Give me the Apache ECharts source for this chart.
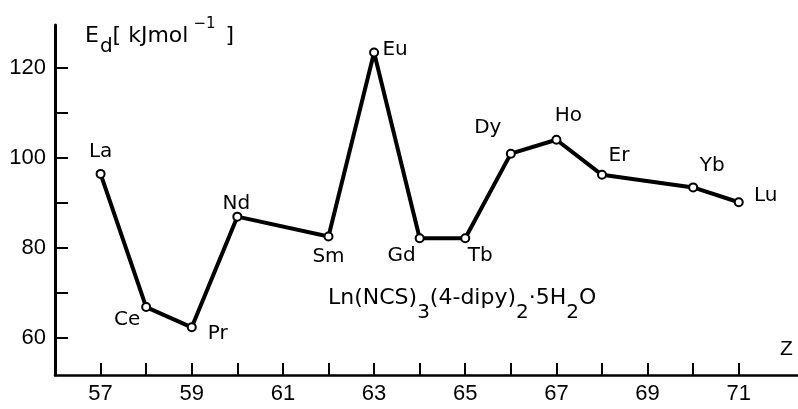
<!DOCTYPE html>
<html>
<head>
<meta charset="utf-8">
<script src="https://cdn.jsdelivr.net/npm/echarts@6/dist/echarts.min.js"></script>
<style>
html,body{margin:0;padding:0;background:#fff;}
#chart{width:798px;height:409px;}
</style>
</head>
<body>
<div id="chart"></div>
<script>
// ---- data ----
const elements = ['La','Ce','Pr','Nd','Sm','Eu','Gd','Tb','Dy','Ho','Er','Yb','Lu'];
const zValues  = [57, 58, 59, 60, 62, 63, 64, 65, 66, 67, 68, 70, 71];
const energies = [96.5, 66.9, 62.4, 87.0, 82.6, 123.5, 82.2, 82.2, 101.0, 104.1, 96.3, 93.5, 90.2];
const xTickValues  = [57,58,59,60,61,62,63,64,65,66,67,68,69,70,71];
const xLabelValues = [57,59,61,63,65,67,69,71];
const yTickValues  = [60,70,80,90,100,110,120];
const yLabelValues = [60,80,100,120];

// ---- label placement (style only) ----
const labelOffsets = {
  La:[0,-22], Ce:[-19,13], Pr:[26,6], Nd:[-1,-13], Sm:[0,20], Eu:[21,-3],
  Gd:[-18,18], Tb:[15,18], Dy:[-23,-26], Ho:[12,-24], Er:[17,-19], Yb:[19,-22], Lu:[27,-6]
};

const seriesData = zValues.map((z, i) => ({
  value: [z, energies[i]],
  name: elements[i],
  label: { offset: labelOffsets[elements[i]] }
}));

const base = {fontFamily:'DejaVu Sans', fontWeight:'normal', color:'#000', verticalAlign:'top'};

const chart = echarts.init(document.getElementById('chart'), null, {renderer:'canvas'});
chart.setOption({
  backgroundColor: '#ffffff',
  animation: false,
  title: [
    {
      left: 80, top: 11,
      text: '{E|E}{d|d}{n|[ kJmol}{sup|−1}{n| ]}',
      textStyle: {
        fontWeight: 'normal',
        rich: {
          E:   Object.assign({}, base, {fontSize:22, padding:[9,0,0,0]}),
          d:   Object.assign({}, base, {fontSize:20, padding:[21,0,0,1]}),
          n:   Object.assign({}, base, {fontSize:22, padding:[9,0,0,0]}),
          sup: Object.assign({}, base, {fontSize:15, padding:[1,3,0,5]})
        }
      }
    },
    {
      left: 323, top: 282,
      text: '{n|Ln(NCS)}{s|3}{n|(4-dipy)}{s|2}{n|·5H}{s|2}{n|O}',
      textStyle: {
        fontWeight: 'normal',
        rich: {
          n: Object.assign({}, base, {fontSize:22, padding:[0,0,0,0]}),
          s: Object.assign({}, base, {fontSize:20, padding:[16,0,0,0]})
        }
      }
    }
  ],
  grid: {left: 55, top: 25, width: 743, height: 350, containLabel: false, outerBoundsMode: 'none'},
  xAxis: {
    type: 'value',
    min: 56, max: 72.3,
    name: 'Z',
    nameLocation: 'end',
    nameGap: -18,
    nameTextStyle: {fontFamily:'Liberation Sans', fontSize:21, color:'#000', verticalAlign:'bottom', align:'left', padding:[0,0,15,0]},
    axisLine: {show:true, onZero:false, lineStyle:{color:'#000', width:2.5}},
    axisTick: {show:true, inside:true, length:12, customValues: xTickValues, lineStyle:{color:'#000', width:2}},
    axisLabel: {show:true, margin:8, customValues: xLabelValues, fontFamily:'Liberation Sans', fontSize:22, color:'#000'},
    splitLine: {show:false}
  },
  yAxis: {
    type: 'value',
    min: 51.8, max: 129.6,
    axisLine: {show:true, onZero:false, lineStyle:{color:'#000', width:3}},
    axisTick: {show:true, inside:true, length:13, customValues: yTickValues, lineStyle:{color:'#000', width:2}},
    axisLabel: {show:true, margin:9, customValues: yLabelValues, fontFamily:'Liberation Sans', fontSize:22, color:'#000'},
    splitLine: {show:false}
  },
  series: [{
    type: 'line',
    data: seriesData,
    symbol: 'circle',
    symbolSize: 8,
    showAllSymbol: true,
    lineStyle: {color:'#000', width:4},
    itemStyle: {color:'#fff', borderColor:'#000', borderWidth:2},
    label: {
      show: true,
      position: 'inside',
      formatter: p => p.name,
      fontFamily: 'DejaVu Sans',
      fontSize: 20,
      color: '#000'
    },
    emphasis: {disabled: true}
  }]
});
</script>
</body>
</html>
